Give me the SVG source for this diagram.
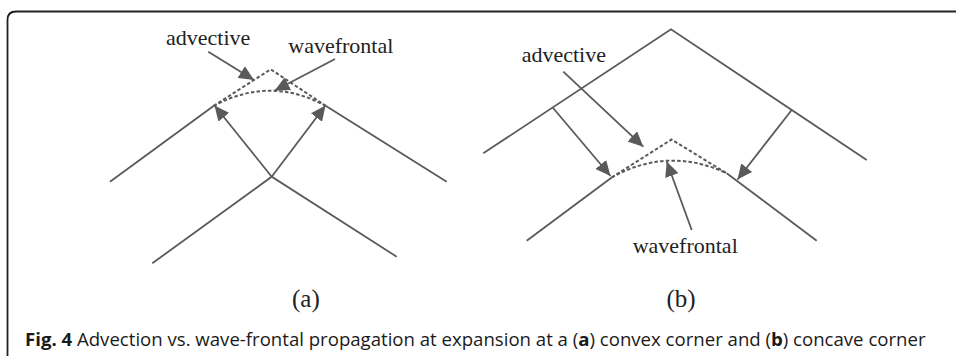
<svg xmlns="http://www.w3.org/2000/svg" width="956" height="356" viewBox="0 0 956 356">
<style>
.ln{stroke:#5a5a5a;stroke-width:1.8;fill:none;stroke-linecap:butt}
.ar{stroke:#5a5a5a;stroke-width:1.8;fill:none;marker-end:url(#ah)}
.ds{stroke:#5a5a5a;stroke-width:2;fill:none;stroke-dasharray:3.5 2.2}
.lb{font-family:"Liberation Serif","Times New Roman",serif;font-size:22px;fill:#222}
.pl{font-family:"Liberation Serif","Times New Roman",serif;font-size:25px;fill:#222}
.cap{font-family:"Open Sans","Liberation Sans",sans-serif;font-size:18.6px;fill:#1a1a1a}
.b{font-weight:bold}
</style>
<defs>
<marker id="ah" markerUnits="userSpaceOnUse" markerWidth="16" markerHeight="14" refX="15" refY="7" orient="auto">
<path d="M0,0 L15,7 L0,14 Z" fill="#5a5a5a"/>
</marker>
</defs>
<path d="M7.5,356 V20 Q7.5,11.5 16,11.5 H956" fill="none" stroke="#222" stroke-width="1.8"/>
<g id="panel-a">
<g id="a-upper"><path class="ln" d="M110,181.7 L213.5,106 M326,106 L446.7,181.7"/></g>
<g id="a-lower"><path class="ln" d="M152.3,263.3 L271.7,176.7 L396.7,256.7"/></g>
<g id="a-advective-front"><path class="ds" d="M213.5,106 L270.7,69.3 L326,106"/></g>
<g id="a-wavefrontal-front"><path class="ds" d="M213.5,106 Q270,75.5 326,106"/></g>
<g id="a-label-advective"><text class="lb" x="166" y="45">advective</text></g>
<g id="a-label-wavefrontal"><text class="lb" x="288.3" y="53.3">wavefrontal</text></g>
<text class="pl" x="292" y="307">(a)</text>
</g>
<g id="panel-b">
<g id="b-upper"><path class="ln" d="M483.3,153.3 L671,29.3 L866.7,160"/></g>
<g id="b-lower"><path class="ln" d="M526.7,240.7 L611.7,177.5 M726.7,173.3 L816.7,240.7"/></g>
<g id="b-advective-front"><path class="ds" d="M611.7,177.5 L671.5,139.5 L726.7,173.3"/></g>
<g id="b-wavefrontal-front"><path class="ds" d="M611.7,177.5 Q668,146 726.7,173.3"/></g>
<g id="b-label-advective"><text class="lb" x="521.7" y="61.7">advective</text></g>
<g id="b-label-wavefrontal"><text class="lb" x="632.7" y="252.7">wavefrontal</text></g>
<text class="pl" x="666.5" y="307">(b)</text>
</g>
<g id="connectors">
<line class="ar" x1="271.7" y1="176.7" x2="214.5" y2="105.5"/>
<line class="ar" x1="271.7" y1="176.7" x2="325.5" y2="105.5"/>
<line class="ar" x1="208.3" y1="51.7" x2="254" y2="80"/>
<line class="ar" x1="335" y1="59" x2="274.5" y2="90.7"/>
<line class="ar" x1="552.7" y1="107.5" x2="610.5" y2="176"/>
<line class="ar" x1="791.7" y1="110" x2="737.5" y2="179.5"/>
<line class="ar" x1="563.3" y1="71.7" x2="643.3" y2="146.7"/>
<line class="ar" x1="691.7" y1="230" x2="666.7" y2="161.5"/>
</g>
<g id="caption">
<text class="cap" x="25" y="346"><tspan class="b">Fig. 4</tspan> Advection vs. wave-frontal propagation at expansion at a (<tspan class="b">a</tspan>) convex corner and (<tspan class="b">b</tspan>) concave corner</text>
</g>
</svg>
